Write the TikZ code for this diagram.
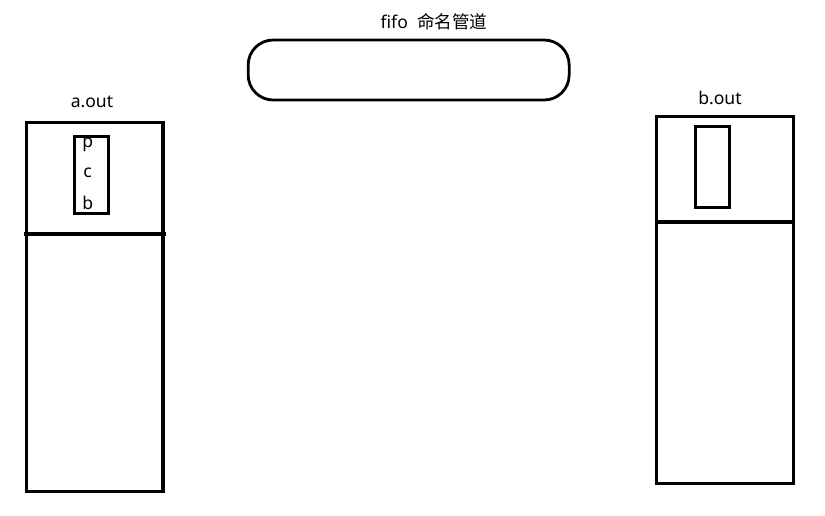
\documentclass[tikz,border=0pt]{standalone}
\usepackage{fontspec}
\setmainfont{Noto Sans}
\newfontfamily\cjk{Noto Sans CJK SC}
\usepackage{tikz}
\usetikzlibrary{positioning}

\tikzset{
    procbox/.style={draw, line width=2.6pt, minimum width=4.1cm, inner sep=0pt},
    stackbox/.style={draw, line width=2.4pt, minimum width=1.02cm, inner sep=0pt},
    pipebox/.style={draw, line width=2.4pt, rounded corners=0.75cm, minimum width=9.63cm, minimum height=1.8cm, inner sep=0pt},
    label/.style={font=\fontsize{15}{17}\selectfont, inner sep=0pt},
}

\begin{document}
\begin{tikzpicture}
        \useasboundingbox (0,0) rectangle (24.75,-15.45);

        \node[pipebox] (pipe) at (12.26,-2.1) {};
        \node[label] (pipelbl) at (13.02,-0.66) {fifo\ \ {\cjk 命名管道}};

        \node[procbox, minimum height=11.07cm] (aout) at (2.84,-9.2) {};
        \node[label] (aoutlbl) at (2.76,-3.06) {a.out};
        \node[stackbox, minimum height=2.31cm] (astack) at (2.75,-5.24) {};
        \node[label] (p) at (2.63,-4.35) {p};
        \node[label] (c) at (2.63,-5.19) {c};
        \node[label] (b) at (2.63,-6.09) {b};
        \coordinate (adivl) at (0.72,-7.02);
        \coordinate (adivr) at (4.98,-7.02);

        \node[procbox, minimum height=11.01cm] (bout) at (21.75,-8.99) {};
        \node[label] (boutlbl) at (21.6,-2.94) {b.out};
        \node[stackbox, minimum height=2.43cm] (bstack) at (21.38,-5.0) {};
        \coordinate (bdiv) at (21.75,-6.66);

        \draw[line width=2.6pt] (adivl) -- (adivr);
        \draw[line width=2.6pt] (bout.west |- bdiv) -- (bout.east |- bdiv);
    \end{tikzpicture}
\end{document}
